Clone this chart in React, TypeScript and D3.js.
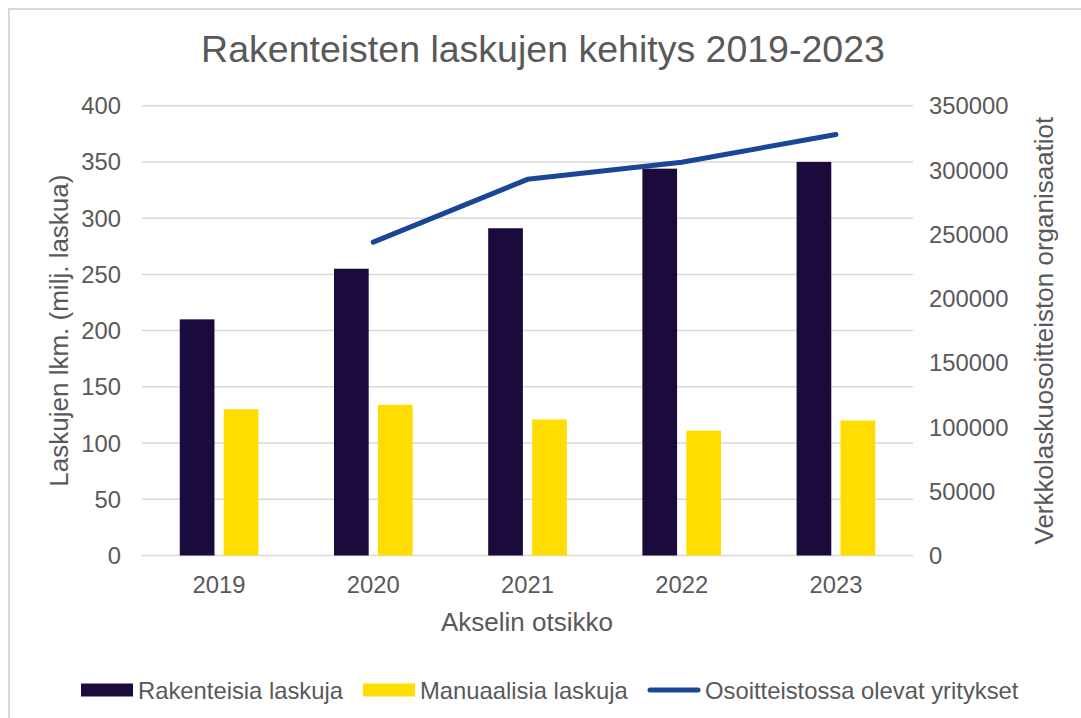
import { useRef, useEffect } from 'react';
import * as d3 from 'd3';

const years = ['2019', '2020', '2021', '2022', '2023'];
const seriesNames = ['Rakenteisia laskuja', 'Manuaalisia laskuja', 'Osoitteistossa olevat yritykset'];
const rakenteisia = [210, 255, 291, 344, 350];
const manuaalisia = [130, 134, 121, 111, 120];
// null = no value for that year
const yritykset: (number | null)[] = [null, 243800, 292700, 306000, 327600];
const leftTicks = [0, 50, 100, 150, 200, 250, 300, 350, 400];
const rightTicks = [0, 50000, 100000, 150000, 200000, 250000, 300000, 350000];

const App = () => {
  const svgRef = useRef<SVGSVGElement>(null);

  useEffect(() => {
    const width = 1081;
    const height = 718;
    const margin = { top: 105.7, right: 172, bottom: 162.5, left: 142 };
    const textColor = '#595959';
    const font = '"Liberation Sans", Arial, sans-serif';
    const tickSize = 23.8;

    const svg = d3.select(svgRef.current);
    svg.selectAll('*').remove();

    // chart frame
    svg.append('rect')
      .attr('x', 9)
      .attr('y', 9)
      .attr('width', width + 20)
      .attr('height', height + 20)
      .attr('fill', 'white')
      .attr('stroke', '#d9d9d9')
      .attr('stroke-width', 2);

    const x0 = d3.scaleBand()
      .domain(years)
      .range([margin.left, width - margin.right + 4])
      .paddingInner(0.49)
      .paddingOuter(0.245);

    const x1 = d3.scaleBand()
      .domain(['a', 'b'])
      .range([0, x0.bandwidth()])
      .paddingInner(0.21);

    const yLeft = d3.scaleLinear()
      .domain([0, 400])
      .range([height - margin.bottom, margin.top]);

    const yRight = d3.scaleLinear()
      .domain([0, 350000])
      .range([height - margin.bottom, margin.top]);

    const xCenter = (d: string) => (x0(d) as number) + x0.bandwidth() / 2;

    // gridlines
    svg.append('g')
      .selectAll('line')
      .data(leftTicks)
      .enter()
      .append('line')
      .attr('x1', margin.left)
      .attr('x2', width - margin.right + 4)
      .attr('y1', d => yLeft(d))
      .attr('y2', d => yLeft(d))
      .attr('stroke', '#d9d9d9')
      .attr('stroke-width', 1.5);

    // left tick labels
    svg.append('g')
      .selectAll('text')
      .data(leftTicks)
      .enter()
      .append('text')
      .text(d => d)
      .attr('x', 121)
      .attr('y', d => yLeft(d))
      .attr('dy', '0.36em')
      .attr('text-anchor', 'end')
      .attr('font-family', font)
      .attr('font-size', tickSize)
      .attr('fill', textColor);

    // right tick labels
    svg.append('g')
      .selectAll('text')
      .data(rightTicks)
      .enter()
      .append('text')
      .text(d => d)
      .attr('x', 929)
      .attr('y', d => yRight(d))
      .attr('dy', '0.36em')
      .attr('text-anchor', 'start')
      .attr('font-family', font)
      .attr('font-size', tickSize)
      .attr('fill', textColor);

    // bars
    svg.append('g')
      .selectAll('rect')
      .data(rakenteisia)
      .enter()
      .append('rect')
      .attr('x', (d, i) => (x0(years[i]) as number) + (x1('a') as number))
      .attr('y', d => yLeft(d))
      .attr('width', x1.bandwidth())
      .attr('height', d => yLeft(0) - yLeft(d))
      .attr('fill', '#1b0a3c');

    svg.append('g')
      .selectAll('rect')
      .data(manuaalisia)
      .enter()
      .append('rect')
      .attr('x', (d, i) => (x0(years[i]) as number) + (x1('b') as number))
      .attr('y', d => yLeft(d))
      .attr('width', x1.bandwidth())
      .attr('height', d => yLeft(0) - yLeft(d))
      .attr('fill', '#ffdd00');

    // line on right axis
    const line = d3.line<number | null>()
      .defined(d => d !== null)
      .x((d, i) => xCenter(years[i]))
      .y(d => yRight(d as number));

    svg.append('path')
      .datum(yritykset)
      .attr('d', line)
      .attr('fill', 'none')
      .attr('stroke', '#1a4696')
      .attr('stroke-width', 5)
      .attr('stroke-linecap', 'round')
      .attr('stroke-linejoin', 'round');

    // x tick labels
    svg.append('g')
      .selectAll('text')
      .data(years)
      .enter()
      .append('text')
      .text(d => d)
      .attr('x', d => xCenter(d))
      .attr('y', 593)
      .attr('text-anchor', 'middle')
      .attr('font-family', font)
      .attr('font-size', tickSize)
      .attr('fill', textColor);

    // title
    svg.append('text')
      .text('Rakenteisten laskujen kehitys 2019-2023')
      .attr('x', 543)
      .attr('y', 62)
      .attr('text-anchor', 'middle')
      .attr('font-family', font)
      .attr('font-size', 37.5)
      .attr('fill', textColor);

    // axis titles
    svg.append('text')
      .text('Akselin otsikko')
      .attr('x', 527)
      .attr('y', 631)
      .attr('text-anchor', 'middle')
      .attr('font-family', font)
      .attr('font-size', 26)
      .attr('fill', textColor);

    svg.append('text')
      .text('Laskujen lkm. (milj. laskua)')
      .attr('transform', `translate(59, ${(yLeft(0) + yLeft(400)) / 2}) rotate(-90)`)
      .attr('dy', '0.36em')
      .attr('text-anchor', 'middle')
      .attr('font-family', font)
      .attr('font-size', 26)
      .attr('fill', textColor);

    svg.append('text')
      .text('Verkkolaskuosoitteiston organisaatiot')
      .attr('transform', `translate(1044, ${(yLeft(0) + yLeft(400)) / 2}) rotate(-90)`)
      .attr('dy', '0.36em')
      .attr('text-anchor', 'middle')
      .attr('font-family', font)
      .attr('font-size', 26)
      .attr('fill', textColor);

    // legend
    const legendY = 690;
    const legendX = [81, 363, 648];
    const legend = svg.append('g');
    legend.append('rect')
      .attr('x', legendX[0]).attr('y', legendY - 6.5)
      .attr('width', 52).attr('height', 13)
      .attr('fill', '#1b0a3c');
    legend.append('rect')
      .attr('x', legendX[1]).attr('y', legendY - 6.5)
      .attr('width', 52).attr('height', 13)
      .attr('fill', '#ffdd00');
    legend.append('line')
      .attr('x1', legendX[2] + 2).attr('x2', legendX[2] + 50)
      .attr('y1', legendY).attr('y2', legendY)
      .attr('stroke', '#1a4696')
      .attr('stroke-width', 5)
      .attr('stroke-linecap', 'round');
    legend.selectAll('text')
      .data(seriesNames)
      .enter()
      .append('text')
      .text(d => d)
      .attr('x', (d, i) => legendX[i] + 57)
      .attr('y', legendY)
      .attr('dy', '0.36em')
      .attr('font-family', font)
      .attr('font-size', tickSize)
      .attr('fill', textColor);
  }, []);

  return (
    <div style={{ position: 'absolute', left: 0, top: 0, width: 1081, height: 718, overflow: 'hidden' }}>
      <svg ref={svgRef} width={1081} height={718} style={{ display: 'block' }}>
      </svg>
    </div>
  );
};

export default App;
